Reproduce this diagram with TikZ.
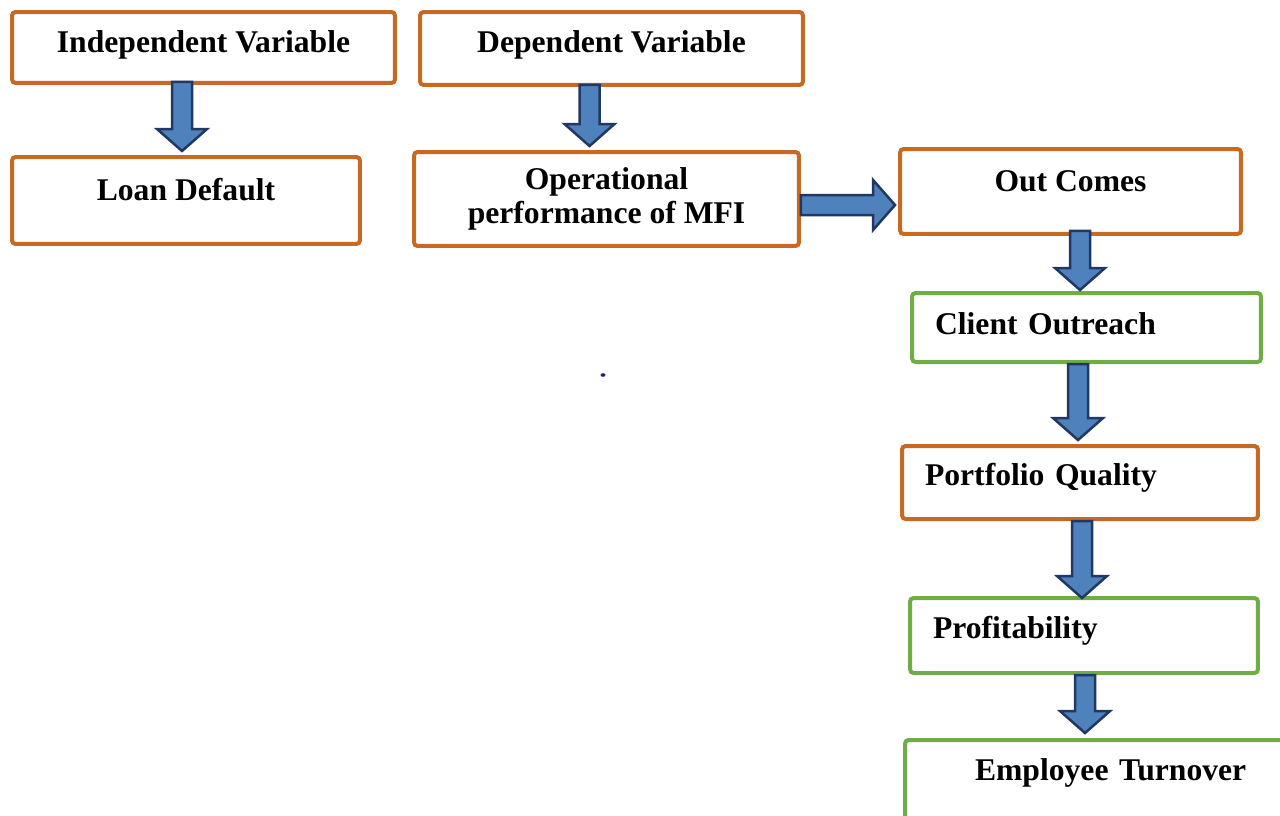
\documentclass[tikz,border=0pt]{standalone}
\usepackage{fontspec}
\setmainfont{Liberation Serif}
\usetikzlibrary{positioning, calc}

\definecolor{boxorange}{RGB}{200,105,35}
\definecolor{boxgreen}{RGB}{112,173,71}
\definecolor{arrowfill}{RGB}{79,129,189}
\definecolor{arrowline}{RGB}{32,56,98}

% Block arrow from #1 to #2 (both given as coordinates)
\newcommand{\flowarrow}[2]{%
    \coordinate (fa-a) at #1;
    \coordinate (fa-b) at #2;
    \coordinate (fa-h) at ($(fa-b)!0.44cm!(fa-a)$);
    \draw[blockarrow]
    ($(fa-a)!0.2cm!90:(fa-b)$) -- ($(fa-h)!0.2cm!90:(fa-b)$) --
    ($(fa-h)!0.5cm!90:(fa-b)$) -- (fa-b) --
    ($(fa-h)!0.5cm!-90:(fa-b)$) -- ($(fa-h)!0.2cm!-90:(fa-b)$) --
    ($(fa-a)!0.2cm!-90:(fa-b)$) -- cycle;
}

\begin{document}
\begin{tikzpicture}[
        x=0.02cm, y=-0.02cm,
        % --- STYLES ---
        % 1. Boxes (orange / green border)
        obox/.style={
                draw=boxorange,
                line width=0.08cm,
                rounded corners=2pt,
                fill=white,
                align=center,
                font=\fontsize{18}{19}\selectfont\bfseries
            },
        gbox/.style={obox, draw=boxgreen},
        % 2. Shift of the text inside a box
        lift/.style={text height=0.45cm, text depth=#1},
        % 3. Text at the left side of a box
        leftin/.style={align=left, inner xsep=#1},
        % 4. Block arrows
        blockarrow/.style={
                fill=arrowfill,
                draw=arrowline,
                line width=0.05cm,
                line join=miter
            }
    ]
    \useasboundingbox (0,0) rectangle (1280,815);
    \clip (0,0) rectangle (1280,815);

    % 1. Variables
    \node[obox, lift=0.25cm, minimum width=7.66cm, minimum height=1.42cm] (indep) at (203.5,47.5) {Independent Variable};
    \node[obox, lift=0.29cm, minimum width=7.66cm, minimum height=1.46cm] (dep) at (611.5,48.5) {Dependent Variable};

    \node[obox, lift=0.45cm, minimum width=6.96cm, minimum height=1.74cm] (loan) at (186,200.5) {Loan Default};
    \node[obox, minimum width=7.7cm, minimum height=1.88cm] (oper) at (606.5,199) {Operational\\performance of MFI};

    % 2. Outcomes
    \node[obox, lift=0.45cm, minimum width=6.82cm, minimum height=1.7cm] (out) at (1070.5,191.5) {Out Comes};
    \node[gbox, lift=0.17cm, leftin=0.46cm, text width=6.06cm, minimum height=1.38cm] (client) at (1086.5,327.5) {Client Outreach};
    \node[obox, lift=0.33cm, leftin=0.46cm, text width=6.2cm, minimum height=1.46cm] (port) at (1080,482.5) {Portfolio Quality};
    \node[gbox, lift=0.33cm, leftin=0.46cm, text width=6.04cm, minimum height=1.5cm] (profit) at (1084,635.5) {Profitability};
    \node[gbox, lift=0.83cm, leftin=1.4cm, text width=6cm, minimum height=2cm] (employee) at (1125,790) {Employee Turnover};

    % 3. Arrows
    \flowarrow{($(indep.south -| loan.north)+(-4,-3)$)}{($(loan.north)+(-4,-4)$)}
    \flowarrow{($(dep.south)+(-22,-2)$)}{($(oper.north)+(-17,-4)$)}
    \flowarrow{($(oper.east)+(0,6)$)}{($(out.west)+(-3,13.5)$)}
    \flowarrow{($(out.south -| port.north)+(0,-5)$)}{($(client.north -| port.north)+(0,-1)$)}
    \flowarrow{($(client.south -| port.north)+(-2,0)$)}{($(port.north)+(-2,-4)$)}
    \flowarrow{($(port.south)+(2,0)$)}{($(profit.north -| port.north)+(2,2)$)}
    \flowarrow{($(profit.south)+(1,0)$)}{($(employee.north -| profit.north)+(1,-5)$)}

    % 4. Small dot
    \fill[arrowline!60!blue] (603,375) ellipse [x radius=2.5, y radius=1.8];

\end{tikzpicture}
\end{document}
